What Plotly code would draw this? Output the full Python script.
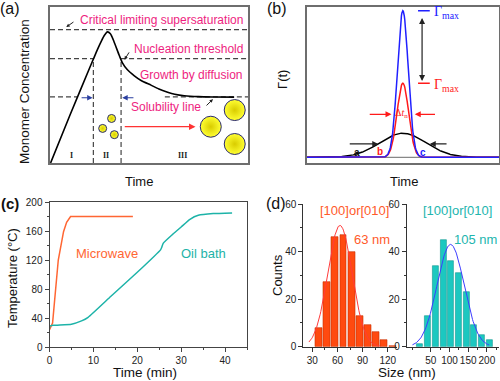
import plotly.graph_objects as go
import math

# ---------------- panel (a): schematic LaMer curve ----------------
a_curve_x = [0.3, 10, 20, 22, 24, 26, 27.5, 29, 30.5, 32, 33.5, 35, 36.5, 39, 42.6, 46, 51, 55, 59.4, 63, 67.8, 75, 83, 93]
a_curve_y = [0, 30.5, 61, 67, 73, 78.5, 82, 84.2, 83, 79, 74, 69, 64.5, 60, 56, 53, 50, 47.5, 45.5, 44.2, 43.2, 42.6, 42.4, 42.3]
a_crit_y = 85.7
a_nuc_y = 67.1
a_sol_y = 42.5
a_stage_x = [21.9, 35.9]
a_small_x = [31.1, 26.6, 32.5]
a_small_y = [28.6, 22.2, 18.2]
a_big_x = [81.2, 93.3, 93.3]
a_big_y = [23.3, 34.0, 12.2]
a_stage_labels = ["I", "II", "III"]
a_stage_label_x = [11, 28.3, 67]

# ---------------- panel (b): nucleation rate curves ----------------
b_center = 50
b_amp = {"a": 0.164, "b": 0.505, "c": 1.0}
b_sigma = {"a": 12.0, "b": 3.0, "c": 2.8}

# ---------------- panel (c): heating profiles ----------------
mw_time = [0, 0.15, 0.7, 2.0, 3.2, 3.9, 4.8, 19]
mw_temp = [24, 26, 33, 120, 159, 172, 180, 180]
oil_time = [0, 0.15, 0.9, 5, 7.3, 8.8, 14, 20, 25.3, 25.6, 25.9, 28, 30, 32, 33.9, 37.3, 41.6]
oil_temp = [27, 29, 30, 31.5, 36, 41, 70, 103, 134, 138, 143, 155, 165.5, 176, 181.6, 184, 185]

# ---------------- panel (d): size histograms ----------------
d1_size = [38, 47.2, 56.7, 67, 77, 86.9, 96.4, 106, 115.5, 125.8]
d1_count = [8, 27, 46, 47, 40, 13, 9, 6, 3, 0.5]
d1_fit = {"amp": 51, "mu": 63, "sigma": 14.5, "x0": 26, "x1": 111}
d2_size = [21.3, 41.9, 63.4, 83.7, 104.4, 125, 145.4, 166, 186.6, 206.9]
d2_count = [1, 13, 34, 45, 36, 31, 23, 9, 5, 3]
d2_fit = {"amp": 43, "mu": 103, "sigma": 36, "x0": 1, "x1": 206}

W, H = 500, 381
def px(x):
    return x / W
def py(y):
    return 1 - y / H

PINK = "#EE1E80"
FONT = "Liberation Sans"

fig = go.Figure()

# ---- (a) traces ----
fig.add_trace(go.Scatter(x=a_curve_x, y=a_curve_y, mode="lines", line=dict(color="black", width=1.6, shape="spline", smoothing=0.6),
                         xaxis="x", yaxis="y", showlegend=False, hoverinfo="skip"))
fig.add_trace(go.Scatter(x=a_small_x, y=a_small_y, mode="markers",
                         marker=dict(size=8, color="#FFFF33", gradient=dict(type="radial", color="#D9CC00"),
                                     line=dict(color="#2A2A70", width=1)),
                         xaxis="x", yaxis="y", showlegend=False, hoverinfo="skip"))
fig.add_trace(go.Scatter(x=a_big_x, y=a_big_y, mode="markers",
                         marker=dict(size=21, color="#FFFF33", gradient=dict(type="radial", color="#D9CC00"),
                                     line=dict(color="#2A2A70", width=1)),
                         xaxis="x", yaxis="y", showlegend=False, hoverinfo="skip"))

shapes = []
dash = "5px,3px"
def aline(x0, y0, x1, y1):
    shapes.append(dict(type="line", xref="x", yref="y", x0=x0, y0=y0, x1=x1, y1=y1,
                       line=dict(color="#444", width=1.2, dash=dash), layer="below"))
aline(0, a_crit_y, 100, a_crit_y)
aline(0, a_nuc_y, a_stage_x[0], a_nuc_y)
aline(a_stage_x[1], a_nuc_y, 100, a_nuc_y)
aline(0, a_sol_y, 14.1, a_sol_y)
aline(58, a_sol_y, 100, a_sol_y)
for sx in a_stage_x:
    aline(sx, 0, sx, a_nuc_y)

ann = []
def txt(x, y, s, xref, yref, size=12, color="#111", xanchor="center", family=FONT, textangle=0, yanchor="middle"):
    ann.append(dict(x=x, y=y, text=s, xref=xref, yref=yref, showarrow=False, xanchor=xanchor, yanchor=yanchor,
                    font=dict(size=size, color=color, family=family), textangle=textangle))
def arrow(x, y, ax, ay, xr, yr, color, width=1.2, head=2, size=1.0, side="end"):
    ann.append(dict(x=x, y=y, ax=ax, ay=ay, xref=xr, yref=yr, axref=xr, ayref=yr, text="", showarrow=True,
                    arrowhead=head, arrowsize=size, arrowwidth=width, arrowcolor=color, arrowside=side,
                    startarrowhead=head, startarrowsize=size))

txt(98.5, 92.1, "Critical limiting supersaturation", "x", "y", 12, PINK, "right")
txt(98.5, 72.9, "Nucleation threshold", "x", "y", 12, PINK, "right")
txt(98.5, 56.4, "Growth by diffusion", "x", "y", 12, PINK, "right")
txt(77.4, 36.1, "Solubility line", "x", "y", 12, PINK, "right")
for lab, lx in zip(a_stage_labels, a_stage_label_x):
    txt(lx, 4.5, "<b>" + lab + "</b>", "x", "y", 8, "#222", family="Liberation Serif")
arrow(8.2, 87.3, 12.6, 91.2, "x", "y", "#222", 1, 2, 0.7)
arrow(37.6, 66.3, 40.4, 72.0, "x", "y", "#222", 1, 2, 0.7)
arrow(82.3, 41.0, 78.3, 36.0, "x", "y", "#222", 1, 2, 0.7)
arrow(21.5, 41.9, 15.2, 41.9, "x", "y", "#2B3FA0", 1.2, 2, 0.9)
arrow(36.5, 41.9, 42.9, 41.9, "x", "y", "#2B3FA0", 1.2, 2, 0.9)
arrow(73.5, 23.3, 37.0, 23.3, "x", "y", "#FF3333", 1.3, 2, 1.0)

# ---- (b) traces ----
bx = [i * 0.25 for i in range(0, 401)]
fig.add_trace(go.Scatter(x=[0, 100], y=[0, 0], mode="lines", line=dict(color="#888", width=1.2),
                         xaxis="x2", yaxis="y2", showlegend=False, hoverinfo="skip"))
for key, col in [("a", "black"), ("b", "#FF1A1A"), ("c", "#2020FF")]:
    yy = [b_amp[key] * math.exp(-((v - b_center) ** 2) / (2 * b_sigma[key] ** 2)) for v in bx]
    fig.add_trace(go.Scatter(x=bx, y=yy, mode="lines", line=dict(color=col, width=1.5),
                             xaxis="x2", yaxis="y2", showlegend=False, hoverinfo="skip"))
for yv, col in [(1.0, "#2020FF"), (0.505, "#FF1A1A")]:
    shapes.append(dict(type="line", xref="x2", yref="y2", x0=57.9, x1=64.0, y0=yv, y1=yv, line=dict(color=col, width=1.5)))
arrow(60.0, 0.52, 60.0, 0.96, "x2", "y2", "#222", 1.2, 2, 1.0, "end+start")
arrow(37.2, 0.091, 21.6, 0.091, "x2", "y2", "#222", 1.2, 2, 1.0)
arrow(64.0, 0.091, 73.5, 0.091, "x2", "y2", "#222", 1.2, 2, 1.0)
arrow(44.1, 0.293, 32.0, 0.293, "x2", "y2", "#FF1A1A", 1.2, 2, 1.0)
arrow(56.2, 0.293, 67.5, 0.293, "x2", "y2", "#FF1A1A", 1.2, 2, 1.0)
txt(65.0, 0.99, "Γ<sub>max</sub>", "x2", "y2", 14, "#2020FF", "left", "Liberation Serif")
txt(65.0, 0.49, "Γ<sub>max</sub>", "x2", "y2", 14, "#FF1A1A", "left", "Liberation Serif")
txt(49.5, 0.30, "Δ<i>t</i><sub>n</sub>", "x2", "y2", 10, "#FF1A1A", "center", "Liberation Serif")
txt(26.3, 0.035, "<b>a</b>", "x2", "y2", 10, "#111")
txt(38.3, 0.04, "<b>b</b>", "x2", "y2", 10, "#FF1A1A")
txt(60.6, 0.035, "<b>c</b>", "x2", "y2", 10, "#2020FF")

# ---- (c) traces ----
fig.add_trace(go.Scatter(x=mw_time, y=mw_temp, mode="lines", line=dict(color="#FF6633", width=1.5),
                         xaxis="x3", yaxis="y3", showlegend=False))
fig.add_trace(go.Scatter(x=oil_time, y=oil_temp, mode="lines", line=dict(color="#1DB3A8", width=1.5, shape="spline", smoothing=0.4),
                         xaxis="x3", yaxis="y3", showlegend=False))
txt(px(106.7), py(253.3), "Microwave", "paper", "paper", 13, "#FF6633")
txt(px(203), py(253.3), "Oil bath", "paper", "paper", 13, "#1DB3A8")

# ---- (d) traces ----
fig.add_trace(go.Bar(x=d1_size, y=d1_count, width=8, marker=dict(color="#FF4A10", line=dict(color="#C83000", width=0.6)),
                     xaxis="x4", yaxis="y4", showlegend=False))
fig.add_trace(go.Bar(x=d2_size, y=d2_count, width=16, marker=dict(color="#1CC8C0", line=dict(color="#129990", width=0.6)),
                     xaxis="x5", yaxis="y5", showlegend=False))
def fitcurve(p):
    n = 120
    xs = [p["x0"] + (p["x1"] - p["x0"]) * i / n for i in range(n + 1)]
    ys = [p["amp"] * math.exp(-((v - p["mu"]) ** 2) / (2 * p["sigma"] ** 2)) for v in xs]
    return xs, ys
fx, fy = fitcurve(d1_fit)
fig.add_trace(go.Scatter(x=fx, y=fy, mode="lines", line=dict(color="#FF3B3B", width=1), xaxis="x4", yaxis="y4", showlegend=False))
fx, fy = fitcurve(d2_fit)
fig.add_trace(go.Scatter(x=fx, y=fy, mode="lines", line=dict(color="#3D3DFF", width=1), xaxis="x5", yaxis="y5", showlegend=False))
txt(px(354.5), py(210.7), "[100]or[010]", "paper", "paper", 13, "#FF5A2A")
txt(px(371.7), py(239.3), "63 nm", "paper", "paper", 13, "#FF5A2A")
txt(px(457.5), py(210.7), "[100]or[010]", "paper", "paper", 13, "#21B5AE")
txt(px(475), py(239.3), "105 nm", "paper", "paper", 13, "#21B5AE")

# ---- panel labels and axis titles ----
txt(px(10), py(9), "(a)", "paper", "paper", 16, "#111")
txt(px(277), py(9), "(b)", "paper", "paper", 16, "#111")
txt(px(10), py(203), "<b>(c)</b>", "paper", "paper", 15, "#111")
txt(px(276), py(203), "(d)", "paper", "paper", 16, "#111")
txt(px(139), py(181.7), "Time", "paper", "paper", 13)
txt(px(404), py(181.7), "Time", "paper", "paper", 13)
txt(px(25), py(92), "Monomer Concentration", "paper", "paper", 13.5, textangle=-90)
txt(px(282), py(80), "Γ(t)", "paper", "paper", 13, textangle=-90)
txt(px(145), py(372.5), "Time (min)", "paper", "paper", 13.5)
txt(px(12), py(278), "Temperature (°C)", "paper", "paper", 13, textangle=-90)
txt(px(277), py(275), "Counts", "paper", "paper", 13, textangle=-90)
txt(px(407), py(372.5), "Size (nm)", "paper", "paper", 13.5)

box = dict(showline=True, mirror=True, linecolor="#6E6E6E", linewidth=2, showgrid=False, zeroline=False,
           showticklabels=False, ticks="", automargin=False)
tickf = dict(size=10, color="#222", family=FONT)
common = dict(showgrid=False, zeroline=False, ticks="outside", ticklen=4, linewidth=1, automargin=False,
              tickfont=tickf, tickangle=0)
fig.update_layout(
    width=W, height=H, margin=dict(l=0, r=0, t=0, b=0, autoexpand=False), paper_bgcolor="white", plot_bgcolor="white",
    font=dict(family=FONT, color="#111"), bargap=0,
    xaxis=dict(domain=[px(50), px(248)], range=[0, 100], anchor="y", **box),
    yaxis=dict(domain=[py(163), py(7.3)], range=[0, 100], anchor="x", **box),
    xaxis2=dict(domain=[px(306.7), px(499)], range=[0, 100], anchor="y2", **box),
    yaxis2=dict(domain=[py(163.3), py(6.7)], range=[-0.041, 1.027], anchor="x2", **box),
    xaxis3=dict(domain=[px(49.5), px(247)], range=[0, 45], anchor="y3", showline=True, mirror=True, linecolor="#444",
                tickcolor="#444", tickvals=[0, 10, 20, 30, 40],
                minor=dict(tickvals=[5, 15, 25, 35, 45], ticks="outside", ticklen=2, tickcolor="#444"), **common),
    yaxis3=dict(domain=[py(347), py(202)], range=[0, 200], anchor="x3", showline=True, mirror=True, linecolor="#444",
                tickcolor="#444", tickvals=[0, 40, 80, 120, 160, 200],
                minor=dict(tickvals=[20, 60, 100, 140, 180], ticks="outside", ticklen=2, tickcolor="#444"), **common),
    xaxis4=dict(domain=[px(303.3), px(397)], range=[19.3, 131], anchor="y4", showline=True, linecolor="#333",
                tickcolor="#333", tickvals=[30, 60, 90, 120],
                minor=dict(tickvals=[45, 75, 105], ticks="outside", ticklen=2, tickcolor="#333"), **common),
    yaxis4=dict(domain=[py(346.7), py(204)], range=[0, 60], anchor="x4", showline=True, linecolor="#333",
                tickcolor="#333", tickvals=[0, 20, 40, 60],
                minor=dict(tickvals=[10, 30, 50], ticks="outside", ticklen=2, tickcolor="#333"), **common),
    xaxis5=dict(domain=[px(406.7), px(498.5)], range=[-14.3, 231], anchor="y5", showline=True, linecolor="#333",
                tickcolor="#333", tickvals=[50, 100, 150, 200],
                minor=dict(tickvals=[0, 75, 125, 175, 225], ticks="outside", ticklen=2, tickcolor="#333"), **common),
    yaxis5=dict(domain=[py(346.7), py(204)], range=[0, 60], anchor="x5", showline=True, linecolor="#333",
                tickcolor="#333", tickvals=[0, 20, 40, 60],
                minor=dict(tickvals=[10, 30, 50], ticks="outside", ticklen=2, tickcolor="#333"), **common),
    shapes=shapes, annotations=ann,
)

fig.write_html("out.html", config={"displayModeBar": False},
               post_script="document.body.style.margin='0';document.body.style.padding='0';")
